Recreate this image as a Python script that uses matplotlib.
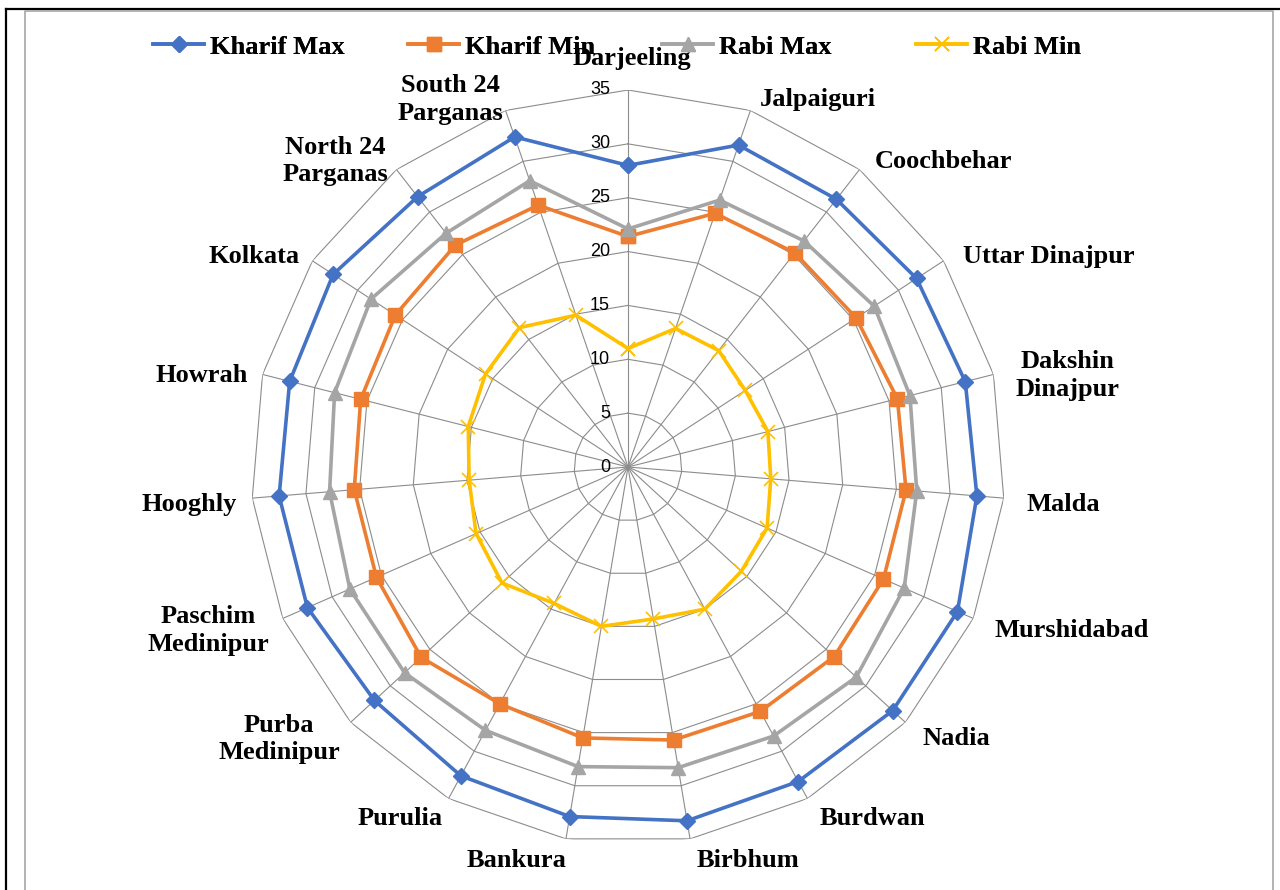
import numpy as np
import matplotlib
matplotlib.use('Agg')
import matplotlib.pyplot as plt
from matplotlib.lines import Line2D

districts = ['Darjeeling', 'Jalpaiguri', 'Coochbehar', 'Uttar Dinajpur', 'Dakshin\nDinajpur',
             'Malda', 'Murshidabad', 'Nadia', 'Burdwan', 'Birbhum', 'Bankura', 'Purulia',
             'Purba\nMedinipur', 'Paschim\nMedinipur', 'Hooghly', 'Howrah', 'Kolkata',
             'North 24\nParganas', 'South 24\nParganas']
kharif_max = [28.0, 31.6, 31.5, 32.0, 32.3, 32.5, 33.4, 33.4, 33.2, 33.3,
              32.9, 32.6, 32.0, 32.5, 32.5, 32.4, 32.7, 31.8, 32.4]
kharif_min = [21.4, 24.9, 25.2, 25.3, 25.8, 25.9, 25.9, 26.0, 25.8, 25.7,
              25.5, 25.0, 26.1, 25.5, 25.5, 25.6, 25.8, 26.1, 25.7]
rabi_max = [22.1, 26.2, 26.6, 27.3, 27.0, 26.9, 28.0, 28.8, 28.4, 28.3,
            28.2, 27.8, 28.2, 28.2, 27.8, 28.1, 28.5, 27.5, 28.1]
rabi_min = [11.0, 13.6, 13.7, 13.0, 13.4, 13.3, 14.1, 14.3, 15.0, 14.3,
            15.0, 14.4, 15.9, 15.4, 14.8, 15.3, 15.8, 16.4, 14.9]
r_ticks = [0, 5, 10, 15, 20, 25, 30, 35]

series = [
    ('Kharif Max', kharif_max, '#4472C4', 'D', 8),
    ('Kharif Min', kharif_min, '#ED7D31', 's', 10),
    ('Rabi Max', rabi_max, '#A5A5A5', '^', 10),
    ('Rabi Min', rabi_min, '#FFC000', 'x', 10),
]

W, H = 1280, 890
fig = plt.figure(figsize=(W / 100, H / 100), dpi=100)
cx, cy, rad = 628, 467, 377
ax = fig.add_axes([(cx - rad) / W, (H - cy - rad) / H, 2 * rad / W, 2 * rad / H], projection='polar')
ax.set_theta_offset(np.pi / 2)
ax.set_theta_direction(-1)
ax.set_ylim(0, 35)
ax.grid(False)
ax.spines['polar'].set_visible(False)
ax.set_xticks([])
ax.set_yticks([])
ax.patch.set_alpha(0)

n = len(districts)
theta = np.linspace(0, 2 * np.pi, n, endpoint=False)
closed = np.append(theta, theta[0])

grid_col = '#8c8c8c'
for r in r_ticks[1:]:
    ax.plot(closed, [r] * (n + 1), color=grid_col, lw=0.8, zorder=1)
for t in theta:
    ax.plot([t, t], [0, 35], color=grid_col, lw=0.8, zorder=1)

# tick numbers along the top spoke
for r in r_ticks:
    ax.annotate(str(r), xy=(0, r), xytext=(-18, 0), textcoords='offset pixels',
                ha='right', va='center', fontsize=13, family='Liberation Sans', color='black')

handles = []
for name, vals, col, mk, ms in series:
    v = list(vals) + [vals[0]]
    mew = 1.2 if mk == 'x' else 1
    h, = ax.plot(closed, v, color=col, lw=2.6, marker=mk, markersize=ms,
                 markeredgewidth=mew, markeredgecolor=col, label=name, zorder=3,
                 clip_on=False)
    handles.append(h)

lab_font = dict(family='Liberation Serif', fontweight='bold', fontsize=19)
for t, name in zip(theta, districts):
    s, c = np.sin(t), np.cos(t)
    if abs(s) < 0.05:
        ha = 'center'
    else:
        ha = 'left' if s > 0 else 'right'
    dx = 19 * s + 3.5
    dy = 17 * c - 5 + (20 if abs(s) < 0.05 else 0)
    ax.annotate(name, xy=(t, 35), xytext=(dx, dy), textcoords='offset pixels',
                ha=ha, va='center', multialignment='center', linespacing=1.25,
                annotation_clip=False, **lab_font)

# legend, one entry each so spacing matches the source
leg_x = [153, 408, 662, 916]
for h, x in zip(handles, leg_x):
    lg = fig.legend(handles=[h], loc='center left', bbox_to_anchor=(x / W, 1 - 47 / H),
                    frameon=False, borderpad=0, borderaxespad=0, handlelength=1.95,
                    handletextpad=0.22, prop={'family': 'Liberation Serif', 'weight': 'bold', 'size': 19})
    fig.add_artist(lg)

# frames
fig.add_artist(Line2D([6 / W, 6 / W], [0, 1 - 9 / H], color='black', lw=1.6, transform=fig.transFigure))
fig.add_artist(Line2D([6 / W, 1], [1 - 9 / H, 1 - 9 / H], color='black', lw=1.6, transform=fig.transFigure))
fig.add_artist(Line2D([25 / W, 25 / W, 1273 / W, 1273 / W], [0, 1 - 11 / H, 1 - 11 / H, 0],
                      color='#a6a6a6', lw=1.2, transform=fig.transFigure))

fig.savefig('out.png', dpi=100)
